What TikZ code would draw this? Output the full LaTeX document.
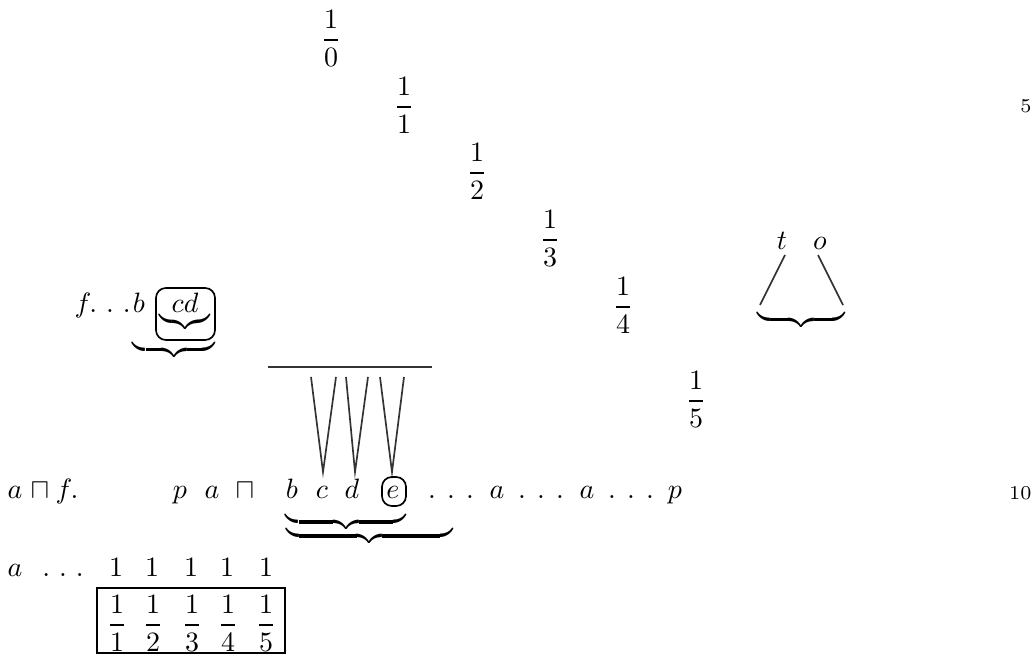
\documentclass[tikz,border=0pt]{standalone}
\usepackage{amsmath}
\newcommand\rowdots{.\kern4pt.\kern4pt.}
\newcommand\smdots{.\kern3.2pt.\kern3.2pt.}
\newcommand\ubr[1]{\hbox to #1{\upbracefill}}
\begin{document}
\begin{tikzpicture}[x=0.3571pt,y=-0.3571pt,
  txt/.style={anchor=base,inner sep=0pt,outer sep=0pt},
  brc/.style={anchor=center,inner sep=0pt,outer sep=0pt},
  ln/.style={line width=0.6pt,black!80},
  rbox/.style={draw,line width=0.6pt,rounded corners=3.5pt},
  lnum/.style={anchor=base east,inner sep=0pt,font=\scriptsize}]
\useasboundingbox (0,0) rectangle (1035,654);

% diagonal of fractions
\node[txt] (q0) at (331,47)  {$\dfrac{1}{0}$};
\node[txt] (q1) at (404,114) {$\dfrac{1}{1}$};
\node[txt] (q2) at (477,180) {$\dfrac{1}{2}$};
\node[txt] (q3) at (550,247) {$\dfrac{1}{3}$};
\node[txt] (q4) at (623,314) {$\dfrac{1}{4}$};
\node[txt] (q5) at (696,408) {$\dfrac{1}{5}$};

% line numbers
\node[lnum] (l5)  at (1032,113) {5};
\node[lnum] (l10) at (1032,500) {10};

% f...b [cd]
\node[txt] (ff) at (83,313) {$f$};
\node[txt] (fd) at (110,313) {$\smdots$};
\node[txt] (fbb) at (139,313) {$b$};
\node[txt] (cd) at (185,313) {$cd$};
\draw[rbox] (156,288) rectangle (215,340);
\node[brc] (bcd) at (183.5,321.5) {\ubr{16.8pt}};
\node[brc] (bfb) at (174,349.5) {\ubr{29.3pt}};

% t o
\node[txt] (t) at (782,250) {$t$};
\node[txt] (o) at (820,250) {$o$};
\coordinate (ta) at (785,255);
\coordinate (tb) at (760,305);
\coordinate (oa) at (818,255);
\coordinate (ob) at (843,305);
\draw[ln] (ta) -- (tb);
\draw[ln] (oa) -- (ob);
\node[brc] (bto) at (801,319.5) {\ubr{31.4pt}};

% horizontal line and V's
\coordinate (h1) at (268,367);
\coordinate (h2) at (432,367);
\draw[ln] (h1) -- (h2);
\coordinate (v1a) at (311,377); \coordinate (v1b) at (323,472); \coordinate (v1c) at (336,377);
\coordinate (v2a) at (346,377); \coordinate (v2b) at (355,472); \coordinate (v2c) at (368,377);
\coordinate (v3a) at (380,377); \coordinate (v3b) at (392,472); \coordinate (v3c) at (404,377);
\draw[ln] (v1a) -- (v1b) -- (v1c);
\draw[ln] (v2a) -- (v2b) -- (v2c);
\draw[ln] (v3a) -- (v3b) -- (v3c);

% main row
\node[txt] (r1)  at (15,499)  {$a$};
\node[txt] (r2)  at (40,499)  {$\sqcap$};
\node[txt] (r3)  at (67,499)  {$f.$};
\node[txt] (r4)  at (180,499) {$p$};
\node[txt] (r5)  at (212,499) {$a$};
\node[txt] (r6)  at (245,499) {$\sqcap$};
\node[txt] (r7)  at (292,499) {$b$};
\node[txt] (r8)  at (322,499) {$c$};
\node[txt] (r9)  at (352,499) {$d$};
\node[txt] (r10) at (393,499) {$e$};
\draw[rbox] (382,477) rectangle (406,506);
\node[txt] (r11) at (451,499) {$\rowdots$};
\node[txt] (r12) at (497,499) {$a$};
\node[txt] (r13) at (541,499) {$\rowdots$};
\node[txt] (r14) at (587,499) {$a$};
\node[txt] (r15) at (631,499) {$\rowdots$};
\node[txt] (r16) at (675,499) {$p$};
\node[brc] (bb1) at (346,522) {\ubr{42.9pt}};
\node[brc] (bb2) at (369.5,536) {\ubr{59.6pt}};

% second row
\node[txt] (s1) at (15,576)  {$a$};
\node[txt] (s2) at (63,576)  {$\smdots$};
\node[txt] (s3) at (116,576) {$1$};
\node[txt] (s4) at (152,576) {$1$};
\node[txt] (s5) at (191,576) {$1$};
\node[txt] (s6) at (227,576) {$1$};
\node[txt] (s7) at (266,576) {$1$};

% boxed fractions
\draw[line width=0.6pt] (97,588) rectangle (285,653);
\node[txt] (u1) at (117,632) {$\dfrac{1}{1}$};
\node[txt] (u2) at (153,632) {$\dfrac{1}{2}$};
\node[txt] (u3) at (192,632) {$\dfrac{1}{3}$};
\node[txt] (u4) at (228,632) {$\dfrac{1}{4}$};
\node[txt] (u5) at (266,632) {$\dfrac{1}{5}$};
\end{tikzpicture}
\end{document}
